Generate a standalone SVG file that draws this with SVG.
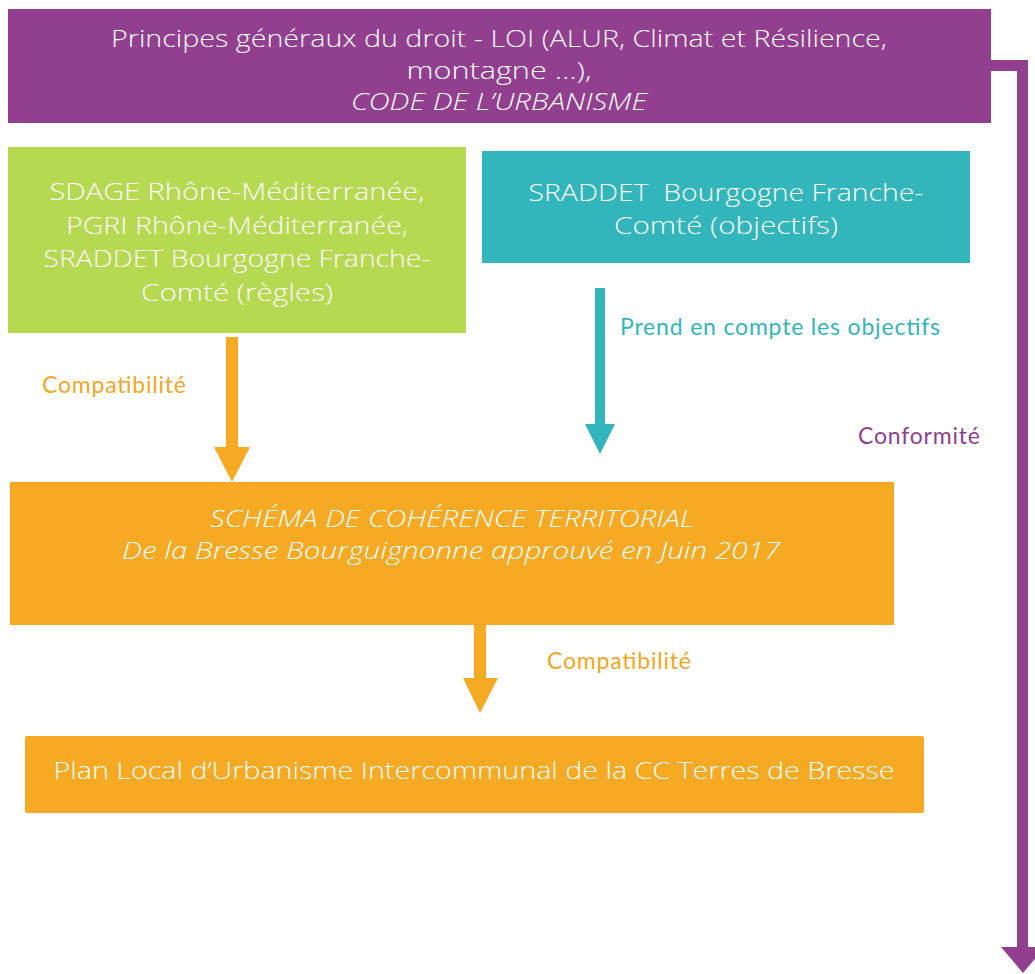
<svg xmlns="http://www.w3.org/2000/svg" width="1035" height="974" viewBox="0 0 1035 974">
<style>
.box{font-family:"Open Sans","DejaVu Sans",sans-serif;fill:#ffffff;text-anchor:middle;font-weight:300;font-size:24px}
.lbl{font-family:Lato,"Open Sans",sans-serif;font-size:23px}
.it{font-style:italic}
</style>
<rect width="1035" height="974" fill="#ffffff"/>
<g id="connectors">
<polygon fill="#913F8E" points="991,60 1028,60 1028,947 1045,947 1023,973 1001,947 1017,947 1017,71 991,71"/>
<polygon fill="#F6A923" points="226,337 238,337 238,447 250,447 232,482 214,447 226,447"/>
<polygon fill="#33B6BB" points="595,288 605,288 605,424 615,424 600,454 585,424 595,424"/>
<polygon fill="#F6A923" points="474,625 486,625 486,678 498,678 480,713 463,678 474,678"/>
<text class="lbl" x="42" y="393" fill="#F5A623" textLength="144">Compatibilité</text>
<text class="lbl" x="620" y="335" fill="#33B6BB" textLength="320">Prend en compte les objectifs</text>
<text class="lbl" x="858" y="444" fill="#913F8E" textLength="122">Conformité</text>
<text class="lbl" x="547" y="669" fill="#F5A623" textLength="144">Compatibilité</text>
</g>
<g id="node-lois">
<rect x="8" y="9" width="983" height="114" fill="#913F8E"/>
<text class="box" x="499" y="47" textLength="776" lengthAdjust="spacingAndGlyphs">Principes généraux du droit - LOI (ALUR, Climat et Résilience,</text>
<text class="box" x="499" y="79" textLength="185" lengthAdjust="spacingAndGlyphs">montagne …),</text>
<text class="box it" x="499" y="110" textLength="296" lengthAdjust="spacingAndGlyphs">CODE DE L’URBANISME</text>
</g>
<g id="node-sdage">
<rect x="8" y="147" width="458" height="186" fill="#B5D951"/>
<text class="box" x="237" y="200" textLength="375" lengthAdjust="spacingAndGlyphs">SDAGE Rhône-Méditerranée,</text>
<text class="box" x="237" y="234" textLength="342" lengthAdjust="spacingAndGlyphs">PGRI Rhône-Méditerranée,</text>
<text class="box" x="237" y="267" textLength="387" lengthAdjust="spacingAndGlyphs">SRADDET Bourgogne Franche-</text>
<text class="box" x="237" y="301" textLength="192" lengthAdjust="spacingAndGlyphs">Comté (règles)</text>
</g>
<g id="node-sraddet">
<rect x="482" y="151" width="488" height="112" fill="#33B6BB"/>
<text class="box" x="726" y="201" textLength="395" lengthAdjust="spacingAndGlyphs" xml:space="preserve">SRADDET  Bourgogne Franche-</text>
<text class="box" x="726" y="234" textLength="224" lengthAdjust="spacingAndGlyphs">Comté (objectifs)</text>
</g>
<g id="node-scot">
<rect x="10" y="482" width="884" height="143" fill="#F6A923"/>
<text class="box it" x="452" y="527" textLength="484" lengthAdjust="spacingAndGlyphs">SCHÉMA DE COHÉRENCE TERRITORIAL</text>
<text class="box it" x="451" y="559" textLength="658" lengthAdjust="spacingAndGlyphs">De la Bresse Bourguignonne approuvé en Juin 2017</text>
</g>
<g id="node-plui">
<rect x="25" y="736" width="899" height="77" rx="2" fill="#F6A923"/>
<text class="box" x="474" y="779" font-size="26" textLength="841" lengthAdjust="spacingAndGlyphs">Plan Local d’Urbanisme Intercommunal de la CC Terres de Bresse</text>
</g>
</svg>
